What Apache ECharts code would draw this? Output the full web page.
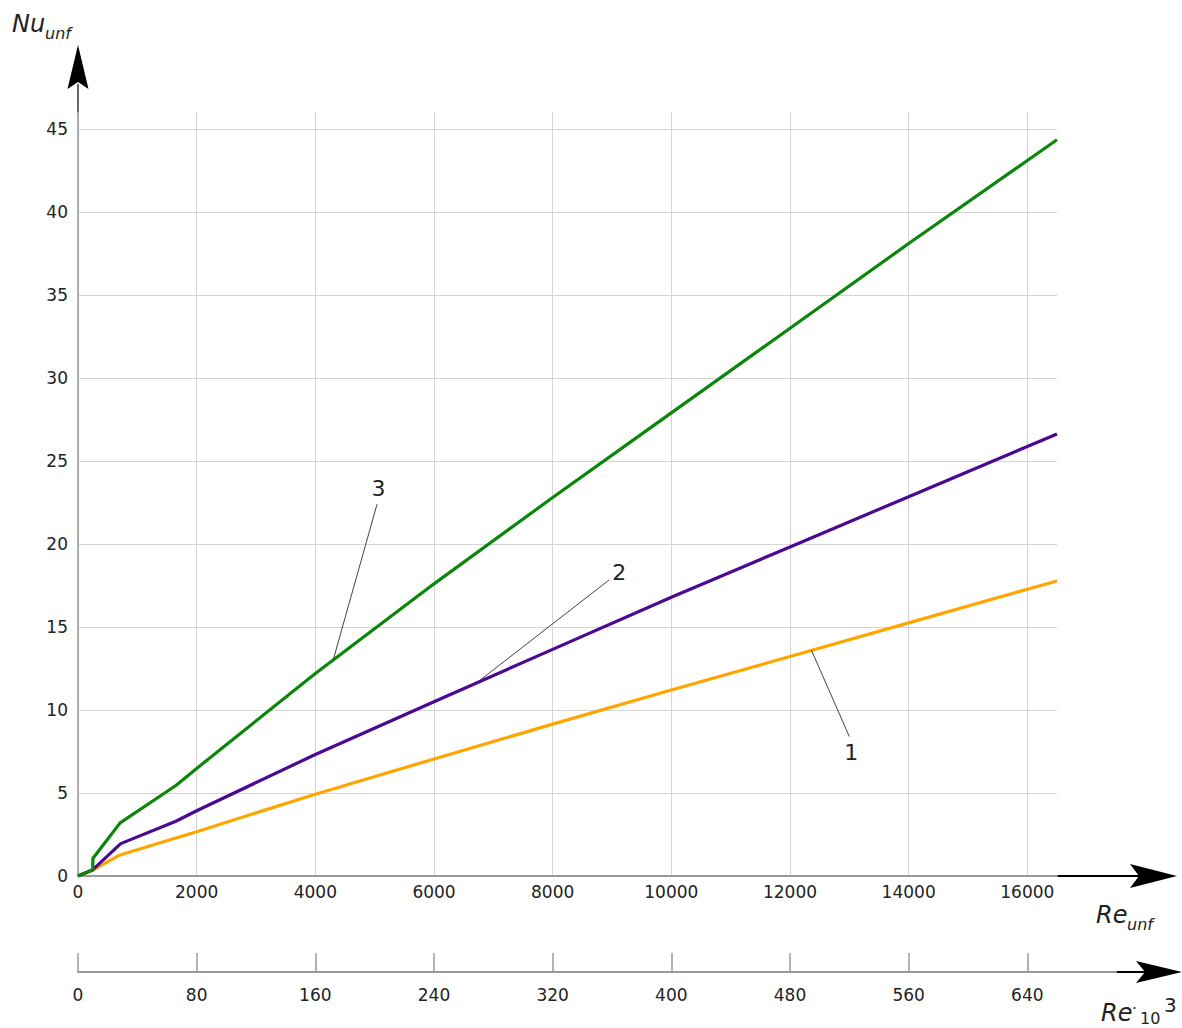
<!DOCTYPE html>
<html>
<head>
<meta charset="utf-8">
<script src="https://cdn.jsdelivr.net/npm/echarts@6/dist/echarts.min.js"></script>
<style>
  html, body { margin: 0; padding: 0; background: #fff; }
  #chart { width: 1182px; height: 1028px; }
</style>
</head>
<body>
<div id="chart"></div>
<script>
// Curve 1 (orange): Nu_unf against Re_unf
const re1 = [0, 250, 710, 1650, 2000, 4000, 6000, 8000, 10000, 12000, 14000, 16000, 16500];
const nu1 = [0, 0.36, 1.27, 2.29, 2.67, 4.93, 7.05, 9.15, 11.2, 13.22, 15.25, 17.27, 17.77];

// Curve 2 (purple)
const re2 = [0, 250, 720, 1650, 2000, 4000, 6000, 8000, 10000, 12000, 14000, 16000, 16500];
const nu2 = [0, 0.38, 1.95, 3.3, 3.93, 7.32, 10.5, 13.65, 16.79, 19.82, 22.85, 25.87, 26.63];

// Curve 3 (green)
const re3 = [0, 250, 250, 710, 1650, 2000, 4000, 6000, 8000, 10000, 12000, 14000, 16000, 16500];
const nu3 = [0, 0.36, 1.05, 3.2, 5.45, 6.48, 12.2, 17.6, 22.8, 27.9, 33.0, 38.1, 43.1, 44.35];

// Leader lines for the curve numbers: [point on curve, free end]
const leader1 = [[12360, 13.61], [13000, 8.4]];
const leader2 = [[6780, 11.81], [8950, 17.83]];
const leader3 = [[4300, 13.0], [5040, 22.4]];

// Tick values
const reUnfTicks = [0, 2000, 4000, 6000, 8000, 10000, 12000, 14000, 16000];
const nuTicks = [0, 5, 10, 15, 20, 25, 30, 35, 40, 45];
const reTicks = [0, 80, 160, 240, 320, 400, 480, 560, 640];

const FONT = 'DejaVu Sans';
const TEXT = '#222';
const AXIS = '#999';
const GRID = '#d4d4d4';

function pairs(xs, ys) { return xs.map((x, i) => [x, ys[i]]); }
const plain = v => String(v);

function leader(points, text, gap) {
  return {
    silent: true,
    symbol: ['none', 'none'],
    animation: false,
    lineStyle: { color: '#444', width: 1, type: 'solid' },
    label: { show: true, position: 'end', formatter: text, fontSize: 22, color: TEXT, fontFamily: FONT, distance: gap },
    emphasis: { disabled: true },
    data: [[{ coord: points[0] }, { coord: points[1] }]]
  };
}

function curve(xs, ys, color, lead, num, gap) {
  return {
    type: 'line',
    data: pairs(xs, ys),
    symbol: 'none',
    color: color,
    lineStyle: { color: color, width: 3.2 },
    emphasis: { disabled: true },
    markLine: leader(lead, num, gap)
  };
}

const chart = echarts.init(document.getElementById('chart'), null, { renderer: 'svg' });

chart.setOption({
  animation: false,
  backgroundColor: '#fff',
  textStyle: { fontFamily: FONT },
  grid: [
    { left: 78, right: 125, top: 112.4, bottom: 152 },
    { left: 78, right: 65.7, top: 960, height: 12 }
  ],
  xAxis: [
    {
      type: 'value', gridIndex: 0, min: 0, max: 16500,
      axisLine: { show: true, lineStyle: { color: AXIS, width: 2 } },
      axisTick: { show: false, customValues: reUnfTicks },
      axisLabel: { customValues: reUnfTicks, formatter: plain, fontSize: 17, color: TEXT, margin: 7, fontFamily: FONT },
      splitLine: { show: true, lineStyle: { color: GRID, width: 1 } }
    },
    {
      type: 'value', gridIndex: 1, min: 0, max: 700,
      axisLine: { show: true, lineStyle: { color: AXIS, width: 2 } },
      axisTick: { show: true, inside: true, length: 19, customValues: reTicks, lineStyle: { color: AXIS, width: 1.5 } },
      axisLabel: { customValues: reTicks, formatter: plain, fontSize: 17, color: TEXT, margin: 14, fontFamily: FONT },
      splitLine: { show: false }
    }
  ],
  yAxis: [
    {
      type: 'value', gridIndex: 0, min: 0, max: 46,
      axisLine: { show: true, lineStyle: { color: AXIS, width: 1.5 } },
      axisTick: { show: false, customValues: nuTicks },
      axisLabel: { customValues: nuTicks, formatter: plain, fontSize: 17, color: TEXT, margin: 10, fontFamily: FONT },
      splitLine: { show: true, lineStyle: { color: GRID, width: 1 } }
    },
    { type: 'value', gridIndex: 1, show: false, min: 0, max: 1 }
  ],
  series: [
    curve(re1, nu1, '#FFA500', leader1, '1', 5),
    curve(re2, nu2, '#4B0892', leader2, '2', 13),
    curve(re3, nu3, '#0A860A', leader3, '3', 5)
  ],
  graphic: [
    // arrow heads and their stems
    { type: 'line', shape: { x1: 1057, y1: 876, x2: 1140, y2: 876 }, style: { stroke: '#000', lineWidth: 2 } },
    { type: 'polygon', shape: { points: [[1177, 876], [1130, 864], [1139, 876], [1130, 888]] }, style: { fill: '#000' } },
    { type: 'line', shape: { x1: 78, y1: 113, x2: 78, y2: 84 }, style: { stroke: '#333', lineWidth: 1.5 } },
    { type: 'polygon', shape: { points: [[78, 45], [67.5, 89], [78, 82], [88.5, 89]] }, style: { fill: '#000' } },
    { type: 'line', shape: { x1: 1115, y1: 972, x2: 1145, y2: 972 }, style: { stroke: '#000', lineWidth: 2 } },
    { type: 'polygon', shape: { points: [[1182, 972], [1136, 961], [1145, 972], [1136, 983]] }, style: { fill: '#000' } },
    // axis titles
    { type: 'text', x: 12, y: 36, style: { text: 'Nu', font: 'italic 24px "DejaVu Sans"', fill: TEXT, verticalAlign: 'bottom' } },
    { type: 'text', x: 45, y: 41, style: { text: 'unf', font: 'italic 16px "DejaVu Sans"', fill: TEXT, verticalAlign: 'bottom' } },
    { type: 'text', x: 1096, y: 927, style: { text: 'Re', font: 'italic 24px "DejaVu Sans"', fill: TEXT, verticalAlign: 'bottom' } },
    { type: 'text', x: 1127, y: 932, style: { text: 'unf', font: 'italic 16px "DejaVu Sans"', fill: TEXT, verticalAlign: 'bottom' } },
    { type: 'text', x: 1101, y: 1025, style: { text: 'Re', font: 'italic 24px "DejaVu Sans"', fill: TEXT, verticalAlign: 'bottom' } },
    { type: 'text', x: 1132, y: 1016, style: { text: '·', font: '15px "DejaVu Sans"', fill: TEXT, verticalAlign: 'bottom' } },
    { type: 'text', x: 1140, y: 1026, style: { text: '10', font: '16px "DejaVu Sans"', fill: TEXT, verticalAlign: 'bottom' } },
    { type: 'text', x: 1164, y: 1015, style: { text: '3', font: '20px "DejaVu Sans"', fill: TEXT, verticalAlign: 'bottom' } }
  ]
});
</script>
</body>
</html>
